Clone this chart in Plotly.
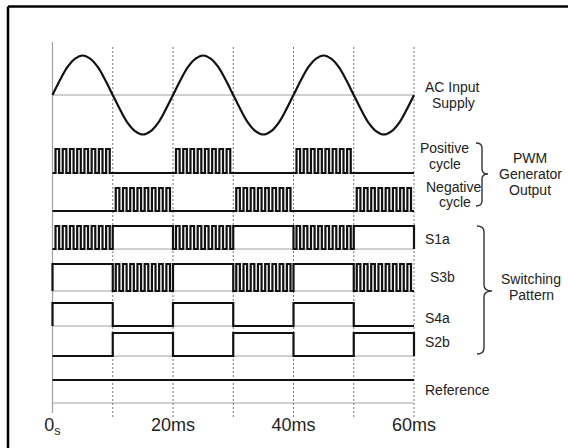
import plotly.graph_objects as go

# ---------------- data ----------------
half_cycle_edges_ms = [0, 10, 20, 30, 40, 50, 60]
tick_vals_ms = [0, 20, 40, 60]
tick_text = ["0<sub>s</sub>", "20ms", "40ms", "60ms"]
dashed_times_ms = [10, 20, 30, 40, 50, 60]

# AC input (normalised), sampled every 1.25 ms
ac_time_ms = [i * 1.25 for i in range(49)]
ac_value = [0, 0.38, 0.71, 0.92, 1, 0.92, 0.71, 0.38, 0, -0.38, -0.71, -0.92, -1, -0.92, -0.71, -0.38,
            0, 0.38, 0.71, 0.92, 1, 0.92, 0.71, 0.38, 0, -0.38, -0.71, -0.92, -1, -0.92, -0.71, -0.38,
            0, 0.38, 0.71, 0.92, 1, 0.92, 0.71, 0.38, 0, -0.38, -0.71, -0.92, -1, -0.92, -0.71, -0.38, 0]

# PWM pulse on/off instants inside one half cycle (ms from its start)
pwm_on_ms = [0.5, 1.7, 2.9, 4.1, 5.3, 6.5, 7.7, 8.9]
pwm_off_ms = [1.1, 2.3, 3.5, 4.7, 5.9, 7.1, 8.3, 9.5]

# per half-cycle mode of each signal: 'pwm', 1 (on) or 0 (off)
pwm_positive = ["pwm", 0, "pwm", 0, "pwm", 0]
pwm_negative = [0, "pwm", 0, "pwm", 0, "pwm"]
s1a = ["pwm", 1, "pwm", 1, "pwm", 1]
s3b = [1, "pwm", 1, "pwm", 1, "pwm"]
s4a = [1, 0, 1, 0, 1, 0]
s2b = [0, 1, 0, 1, 0, 1]
reference = [1, 1, 1, 1, 1, 1]

# ---------------- layout constants (pixels) ----------------
W, H = 568, 448
X0PX = 52.5          # pixel of t = 0
PX_PER_MS = 6.025
AXIS_PX = 412        # pixel row of the time axis

ROWS = {  # name: (baseline px, amplitude px)
    "pwm_pos": (173, 24),
    "pwm_neg": (211, 23),
    "s1a": (249, 23),
    "s3b": (291, 27),
    "s4a": (326, 23),
    "s2b": (356, 23),
    "ref": (403, 23),
}
AC_ZERO, AC_AMP = 95, 39.5

BLACK = "#111111"
GRAY = "#a0a0a0"
TXT = "#222222"
FONT = "Liberation Sans, Arial, sans-serif"


def build_wave(modes, open_start, close_end):
    xs, ys = [], []
    for i, m in enumerate(modes):
        t0 = half_cycle_edges_ms[i]
        if m == "pwm":
            xs.append(t0); ys.append(0)
            for a, b in zip(pwm_on_ms, pwm_off_ms):
                xs += [t0 + a, t0 + b]
                ys += [1, 0]
        else:
            if i == 0 and open_start:
                xs.append(t0); ys.append(0)
            xs.append(t0); ys.append(m)
    xs.append(half_cycle_edges_ms[-1])
    ys.append(ys[-1])
    if close_end:
        xs.append(half_cycle_edges_ms[-1]); ys.append(0)
    return xs, ys


fig = go.Figure()

# gray baselines
t_start, t_end = half_cycle_edges_ms[0], half_cycle_edges_ms[-1]
for yb in [AC_ZERO] + [v[0] for v in ROWS.values()]:
    fig.add_trace(go.Scatter(x=[t_start, t_end], y=[yb, yb], mode="lines",
                             line=dict(color=GRAY, width=1), hoverinfo="skip"))
# vertical axis line
fig.add_trace(go.Scatter(x=[0, 0], y=[42, 413], mode="lines",
                         line=dict(color=GRAY, width=1.2), hoverinfo="skip"))
# dashed time markers
for t in dashed_times_ms:
    fig.add_trace(go.Scatter(x=[t, t], y=[47, 417], mode="lines",
                             line=dict(color="#777777", width=1, dash="2px,2px"), hoverinfo="skip"))

# AC sine
fig.add_trace(go.Scatter(x=ac_time_ms, y=[AC_ZERO - v * AC_AMP for v in ac_value], mode="lines",
                         line=dict(color=BLACK, width=2.2, shape="spline", smoothing=1.0),
                         hoverinfo="skip"))

signals = [
    ("pwm_pos", pwm_positive, False, False),
    ("pwm_neg", pwm_negative, False, False),
    ("s1a", s1a, False, True),
    ("s3b", s3b, True, True),
    ("s4a", s4a, True, True),
    ("s2b", s2b, False, True),
    ("ref", reference, False, False),
]
for name, modes, open_start, close_end in signals:
    base, amp = ROWS[name]
    xs, ys = build_wave(modes, open_start, close_end)
    fig.add_trace(go.Scatter(x=xs, y=[base - v * amp for v in ys], mode="lines",
                             line=dict(color=BLACK, width=2.2, shape="hv"), hoverinfo="skip"))

# ---------------- annotations ----------------
def px(x):
    return x / W


labels = [
    ("AC Input", 452.5, 87, "center"),
    ("Supply", 453, 103, "center"),
    ("Positive", 444, 148, "center"),
    ("cycle", 445, 164, "center"),
    ("Negative", 453, 187, "center"),
    ("cycle", 455, 202, "center"),
    ("PWM", 530, 158, "center"),
    ("Generator", 530, 174, "center"),
    ("Output", 530, 190, "center"),
    ("S1a", 423, 239, "left"),
    ("S3b", 428, 277, "left"),
    ("S4a", 423, 318, "left"),
    ("S2b", 423, 342, "left"),
    ("Switching", 531, 279, "center"),
    ("Pattern", 531, 295, "center"),
    ("Reference", 423, 390, "left"),
]
for text, x, y, anchor in labels:
    fig.add_annotation(x=px(x), y=y, xref="paper", yref="y", text=text, showarrow=False,
                       xanchor=anchor, yanchor="middle",
                       font=dict(family=FONT, size=14, color=TXT))


def brace(x0, x1, x2, yt, ym, yb, r):
    return (f"M {px(x0)} {yt} Q {px(x1)} {yt} {px(x1)} {yt + r} "
            f"L {px(x1)} {ym - r} Q {px(x1)} {ym} {px(x2)} {ym} "
            f"Q {px(x1)} {ym} {px(x1)} {ym + r} "
            f"L {px(x1)} {yb - r} Q {px(x1)} {yb} {px(x0)} {yb}")


for args in [(476, 482, 488, 143, 174, 206, 5), (477, 484, 492, 226, 291, 354, 6)]:
    fig.add_shape(type="path", xref="paper", yref="y", path=brace(*args),
                  line=dict(color="#333333", width=1.4))

# outer frame (top and left edges)
fig.add_shape(type="line", xref="paper", yref="paper", x0=px(8), x1=1,
              y0=1 - 6.5 / H, y1=1 - 6.5 / H, line=dict(color="black", width=2.5))
fig.add_shape(type="line", xref="paper", yref="paper", x0=px(8), x1=px(8),
              y0=1 - 6.5 / H, y1=0, line=dict(color="black", width=2.5))

fig.update_layout(
    width=W, height=H,
    margin=dict(l=0, r=0, t=0, b=0),
    paper_bgcolor="white", plot_bgcolor="white",
    showlegend=False,
    xaxis=dict(range=[-X0PX / PX_PER_MS, (W - X0PX) / PX_PER_MS], domain=[0, 1],
               anchor="free", position=1 - AXIS_PX / H,
               tickvals=tick_vals_ms, ticktext=tick_text, ticks="",
               tickfont=dict(family=FONT, size=18, color=TXT),
               showgrid=False, zeroline=False, showline=False, fixedrange=True),
    yaxis=dict(range=[H, 0], domain=[0, 1], visible=False, fixedrange=True),
)

fig.write_html("out.html")
